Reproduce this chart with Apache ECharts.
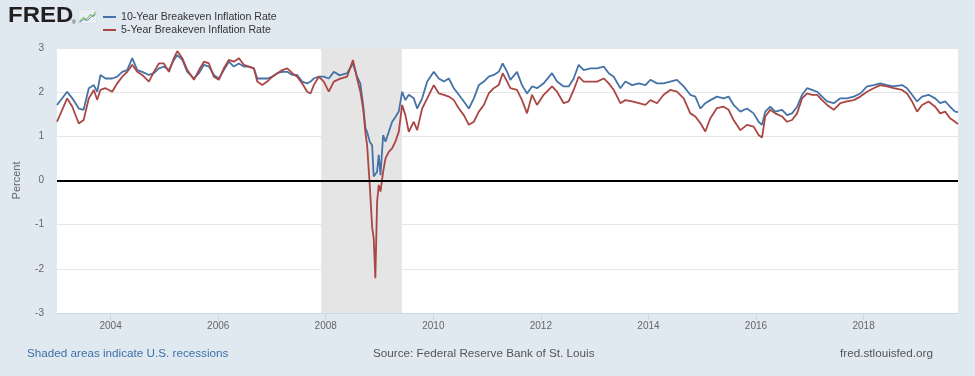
<!DOCTYPE html>
<html><head><meta charset="utf-8">
<script src="https://cdn.jsdelivr.net/npm/echarts@6/dist/echarts.min.js"></script>
<style>html,body{margin:0;padding:0;background:#e1e9f0;}#c{width:975px;height:376px;}</style>
</head><body><div id="c"></div>
<script>
const dates = ['2003-01-02','2003-03-12','2003-04-16','2003-05-30','2003-07-02','2003-08-06','2003-09-09','2003-10-02','2003-10-24','2003-11-28',
'2004-01-12','2004-02-15','2004-03-20','2004-04-23','2004-05-27','2004-06-30','2004-08-03','2004-09-17','2004-10-21','2004-11-24','2004-12-28',
'2005-01-31','2005-03-06','2005-03-29','2005-05-02','2005-06-05','2005-07-20','2005-08-23','2005-09-26','2005-10-30','2005-12-02',
'2006-01-05','2006-02-08','2006-03-14','2006-04-17','2006-05-21','2006-06-24','2006-07-28','2006-08-31','2006-09-23','2006-10-27','2006-11-30',
'2007-01-03','2007-02-06','2007-03-12','2007-04-15','2007-05-19','2007-06-21','2007-07-25','2007-08-28','2007-09-20','2007-10-12','2007-11-15','2007-12-19',
'2008-01-22','2008-02-25','2008-04-05','2008-05-25','2008-07-04','2008-08-01','2008-08-23','2008-09-11','2008-09-27','2008-10-08','2008-10-26','2008-11-11','2008-11-22','2008-12-03','2008-12-15','2008-12-26',
'2009-01-07','2009-01-25','2009-02-10','2009-03-04','2009-03-27','2009-04-18','2009-05-11','2009-06-03','2009-06-25','2009-07-18','2009-08-21','2009-09-13','2009-10-17','2009-11-20',
'2010-01-04','2010-02-07','2010-03-13','2010-04-16','2010-05-20','2010-06-23','2010-07-27','2010-08-30','2010-10-03','2010-11-06','2010-12-10',
'2011-01-12','2011-02-15','2011-03-21','2011-04-17','2011-05-17','2011-06-08','2011-07-23','2011-08-26','2011-09-29','2011-11-02','2011-12-06',
'2012-01-20','2012-03-17','2012-04-20','2012-06-04','2012-07-08','2012-08-11','2012-09-14','2012-10-18','2012-12-03',
'2013-01-17','2013-03-03','2013-04-06','2013-05-10','2013-06-24','2013-07-28','2013-09-12','2013-10-27','2013-12-11',
'2014-01-14','2014-02-28','2014-04-14','2014-05-29','2014-07-13','2014-08-28','2014-10-12','2014-11-15','2014-12-19',
'2015-01-22','2015-02-25','2015-04-11','2015-05-26','2015-06-29','2015-08-02','2015-09-17','2015-11-01','2015-12-16',
'2016-01-19','2016-02-11','2016-03-04','2016-04-07','2016-05-11','2016-06-26','2016-07-30','2016-09-02','2016-10-06','2016-11-09','2016-12-13',
'2017-01-16','2017-02-19','2017-03-25','2017-04-28','2017-06-12','2017-07-27','2017-09-10','2017-10-26','2017-12-10',
'2018-01-24','2018-03-10','2018-04-24','2018-06-09','2018-07-24','2018-09-19','2018-10-23','2018-11-26','2018-12-30',
'2019-02-02','2019-03-18','2019-05-02','2019-06-05','2019-07-09','2019-08-11','2019-09-14','2019-10-04'];

const tenYear = [1.71,2.01,1.86,1.63,1.60,2.09,2.16,2.01,2.39,2.31,
2.31,2.35,2.46,2.50,2.77,2.50,2.46,2.39,2.43,2.54,2.58,
2.50,2.73,2.84,2.73,2.46,2.31,2.43,2.62,2.58,2.39,
2.31,2.50,2.69,2.58,2.65,2.58,2.58,2.54,2.31,2.31,2.31,
2.35,2.43,2.46,2.46,2.39,2.39,2.24,2.20,2.24,2.31,2.35,2.35,
2.31,2.46,2.38,2.43,2.65,2.35,2.20,1.71,1.18,1.10,0.88,0.80,0.09,0.12,0.20,0.58,
0.12,1.03,0.88,1.10,1.33,1.44,1.56,2.01,1.82,1.94,1.86,1.63,1.86,2.24,
2.46,2.31,2.24,2.31,2.09,1.94,1.79,1.63,1.86,2.16,2.24,
2.35,2.39,2.46,2.65,2.46,2.28,2.46,2.16,1.97,2.13,2.09,
2.20,2.43,2.24,2.13,2.13,2.31,2.62,2.50,2.54,
2.54,2.58,2.43,2.35,2.09,2.24,2.16,2.20,2.16,
2.28,2.20,2.20,2.24,2.28,2.13,1.94,1.90,1.63,
1.75,1.82,1.90,1.86,1.90,1.71,1.56,1.63,1.52,
1.33,1.26,1.56,1.67,1.56,1.60,1.48,1.52,1.67,1.94,2.09,
2.05,2.01,1.90,1.79,1.75,1.86,1.86,1.90,1.97,
2.13,2.16,2.20,2.16,2.13,2.16,2.09,1.94,1.79,
1.90,1.94,1.86,1.75,1.79,1.67,1.56,1.55];

const fiveYear = [1.33,1.86,1.67,1.29,1.37,1.86,2.05,1.83,2.05,2.09,
2.01,2.20,2.35,2.46,2.62,2.46,2.39,2.24,2.46,2.65,2.65,
2.46,2.77,2.93,2.77,2.50,2.28,2.50,2.69,2.65,2.35,
2.28,2.54,2.73,2.69,2.77,2.62,2.58,2.54,2.24,2.16,2.24,
2.35,2.43,2.50,2.54,2.43,2.35,2.20,2.01,1.97,2.16,2.35,2.24,
2.01,2.24,2.30,2.35,2.73,2.31,2.01,1.63,1.07,0.80,-0.10,-1.05,-1.31,-2.21,-0.48,-0.10,
-0.25,0.20,0.50,0.65,0.73,0.88,1.10,1.71,1.48,1.10,1.33,1.14,1.63,1.86,
2.16,1.97,1.94,1.90,1.82,1.63,1.48,1.26,1.33,1.56,1.71,
1.97,2.09,2.16,2.43,2.24,2.09,2.05,1.82,1.52,1.94,1.71,
1.94,2.13,2.01,1.75,1.79,2.05,2.35,2.24,2.24,
2.24,2.31,2.20,2.05,1.75,1.82,1.79,1.75,1.71,
1.82,1.75,1.94,2.05,2.01,1.86,1.52,1.45,1.30,
1.11,1.41,1.64,1.67,1.60,1.37,1.14,1.26,1.22,
1.03,0.97,1.45,1.60,1.52,1.45,1.33,1.37,1.52,1.86,1.97,
1.94,1.94,1.82,1.71,1.60,1.75,1.79,1.82,1.90,
2.01,2.09,2.16,2.13,2.09,2.05,1.97,1.79,1.56,
1.71,1.79,1.67,1.52,1.56,1.41,1.33,1.28];

const seriesNames = ['10-Year Breakeven Inflation Rate','5-Year Breakeven Inflation Rate'];
const xTickYears = [2004,2006,2008,2010,2012,2014,2016,2018];
const yTicks = [-3,-2,-1,0,1,2,3];
const recessions = [['2007-12-01','2009-06-01']];
const xStart = '2003-01-02', xEnd = '2019-10-04';

function ts(s){const p=s.split('-');return Date.UTC(+p[0],+p[1]-1,+p[2]);}
const tickVals = xTickYears.map(y=>Date.UTC(y,0,1));

const chart = echarts.init(document.getElementById('c'), null, {renderer:'canvas'});
const FONT = '"Liberation Sans", Arial, sans-serif';
chart.setOption({
  animation:false,
  backgroundColor:'#e1e9f0',
  textStyle:{fontFamily:FONT},
  grid:{left:57,right:17,top:48,bottom:63,show:true,backgroundColor:'#ffffff',borderWidth:0},
  legend:{orient:'vertical',left:103,top:11,padding:0,itemGap:1,itemWidth:13,itemHeight:2,icon:'rect',
    data:seriesNames,textStyle:{fontSize:10.6,color:'#333',lineHeight:12}},
  xAxis:{type:'value',min:ts(xStart),max:ts(xEnd),
    axisLine:{show:true,onZero:false,lineStyle:{color:'#ccd6eb',width:1}},
    axisTick:{show:true,length:7,lineStyle:{color:'#ccd6eb'},customValues:tickVals},
    axisLabel:{customValues:tickVals,formatter:v=>String(new Date(v).getUTCFullYear()),color:'#666',fontSize:10,margin:8},
    splitLine:{show:false}},
  yAxis:{type:'value',min:yTicks[0],max:yTicks[yTicks.length-1],interval:1,
    name:'Percent',nameLocation:'middle',nameGap:35,nameRotate:90,nameTextStyle:{fontSize:11,color:'#666'},
    axisLine:{show:false},axisTick:{show:false},
    axisLabel:{color:'#666',fontSize:10,margin:13},
    splitLine:{lineStyle:{color:'#e6e6e6',width:1}}},
  series:[
    {name:seriesNames[0],type:'line',showSymbol:false,symbol:'none',color:'#4572a7',
     lineStyle:{width:1.8,color:'#4572a7'},
     data:dates.map((d,i)=>[ts(d),tenYear[i]]),
     markArea:{silent:true,itemStyle:{color:'#e5e5e5'},data:recessions.map(r=>[{xAxis:ts(r[0])},{xAxis:ts(r[1])}])},
     z:2},
    {name:seriesNames[1],type:'line',showSymbol:false,symbol:'none',color:'#aa4643',
     lineStyle:{width:1.8,color:'#aa4643'},
     data:dates.map((d,i)=>[ts(d),fiveYear[i]]),
     markLine:{silent:true,symbol:'none',label:{show:false},lineStyle:{color:'#000',width:2,type:'solid'},data:[{yAxis:0}]},
     z:3}
  ],
  graphic:[
    {type:'text',left:8,top:5,scaleX:1.09,style:{text:'FRED',font:'900 22px '+FONT,fill:'#231f20'}},
    {type:'text',left:72,top:20,style:{text:'®',font:'5px '+FONT,fill:'#231f20'}},
    {type:'group',left:77,top:9,children:[
      {type:'rect',shape:{x:0,y:0,width:18,height:14},style:{fill:'#e9eff4',stroke:'#cfd9e2',lineWidth:0.5}},
      {type:'polyline',shape:{points:[[1,12],[5,8],[8,10],[12,5],[15,7],[17,2]]},style:{stroke:'#8fbf5a',lineWidth:1.2,fill:null}},
      {type:'polyline',shape:{points:[[1,13],[5,10],[9,11],[13,7],[17,5]]},style:{stroke:'#5b8fc7',lineWidth:1,fill:null}}
    ]},
    {type:'text',left:27,top:348,style:{text:'Shaded areas indicate U.S. recessions',font:'11.7px '+FONT,fill:'#3e6fa8'}},
    {type:'text',left:373,top:348,style:{text:'Source: Federal Reserve Bank of St. Louis',font:'11.7px '+FONT,fill:'#555'}},
    {type:'text',right:42,top:348,style:{text:'fred.stlouisfed.org',font:'11.7px '+FONT,fill:'#555'}}
  ]
});
</script></body></html>
